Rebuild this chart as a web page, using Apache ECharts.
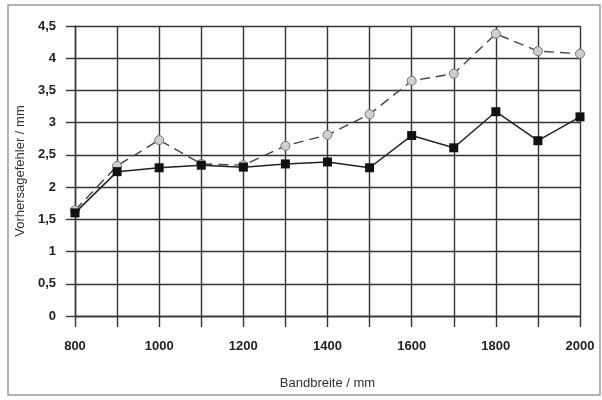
<!DOCTYPE html>
<html>
<head>
<meta charset="utf-8">
<script src="https://cdn.jsdelivr.net/npm/echarts@6/dist/echarts.min.js"></script>
<style>
  html, body { margin: 0; padding: 0; background: #fff; }
  #chart { width: 602px; height: 400px; }
</style>
</head>
<body>
<div id="chart"></div>
<script>
var bandbreite = ['800', '900', '1000', '1100', '1200', '1300', '1400', '1500', '1600', '1700', '1800', '1900', '2000'];
var fehlerSolid = [1.60, 2.24, 2.30, 2.34, 2.31, 2.36, 2.39, 2.30, 2.80, 2.61, 3.17, 2.72, 3.09];
var fehlerDashed = [1.64, 2.33, 2.73, 2.36, 2.34, 2.64, 2.81, 3.13, 3.65, 3.76, 4.38, 4.11, 4.07];

var gridLine = { color: '#333', width: 1.4 };
var labelStyle = { color: '#222', fontWeight: 'bold', fontSize: 13, fontFamily: 'Liberation Sans' };

var chart = echarts.init(document.getElementById('chart'));
var option = {
    backgroundColor: '#fff',
    animation: false,
    graphic: [{
        type: 'rect',
        shape: { x: 8, y: 5, width: 592, height: 390 },
        style: { fill: 'none', stroke: '#9a9a9a', lineWidth: 1.5 },
        silent: true
    }],
    grid: { left: 75, right: 22, top: 26, bottom: 84 },
    xAxis: {
        type: 'category',
        data: bandbreite,
        boundaryGap: false,
        name: 'Bandbreite / mm',
        nameLocation: 'middle',
        nameGap: 61,
        nameTextStyle: { color: '#333', fontSize: 13, fontFamily: 'Liberation Sans' },
        axisLine: { show: true, lineStyle: gridLine },
        axisTick: { show: true, interval: 0, length: 11, lineStyle: gridLine },
        axisLabel: Object.assign({ interval: 1, margin: 24 }, labelStyle),
        splitLine: { show: true, interval: 0, lineStyle: gridLine }
    },
    yAxis: {
        type: 'value',
        min: 0,
        max: 4.5,
        interval: 0.5,
        name: 'Vorhersagefehler / mm',
        nameLocation: 'middle',
        nameGap: 47,
        nameTextStyle: { color: '#333', fontSize: 13, fontFamily: 'Liberation Sans' },
        axisLine: { show: true, lineStyle: gridLine },
        axisTick: { show: true, length: 9, lineStyle: gridLine },
        axisLabel: Object.assign({
            margin: 19,
            formatter: function (v) { return String(v).replace('.', ','); }
        }, labelStyle),
        splitLine: { show: true, lineStyle: gridLine }
    },
    series: [
        {
            type: 'line',
            data: fehlerDashed,
            symbol: 'circle',
            symbolSize: 9,
            lineStyle: { color: '#444', width: 1.4, type: [10, 6] },
            itemStyle: { color: '#cfcfcf', borderColor: '#777', borderWidth: 1 },
            z: 3
        },
        {
            type: 'line',
            data: fehlerSolid,
            symbol: 'rect',
            symbolSize: 9,
            lineStyle: { color: '#222', width: 1.5 },
            itemStyle: { color: '#111', borderColor: '#111', borderWidth: 0 },
            z: 4
        }
    ]
};
chart.setOption(option);
</script>
</body>
</html>
